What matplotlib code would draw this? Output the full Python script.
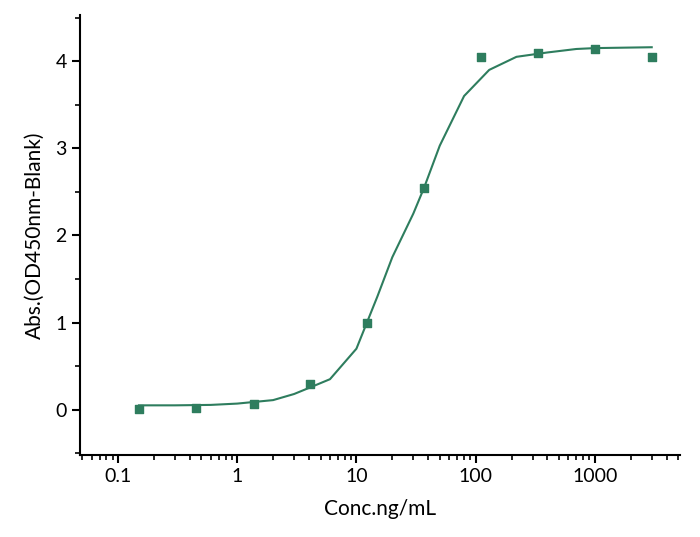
import matplotlib
matplotlib.use('Agg')
import matplotlib.pyplot as plt
from matplotlib.ticker import LogLocator, MultipleLocator, FixedLocator

plt.rcParams['font.family'] = ['Lato', 'DejaVu Sans']

# measured points
conc = [0.15, 0.45, 1.37, 4.1, 12.3, 37, 111, 333, 1000, 3000]
absorb = [0.01, 0.02, 0.07, 0.3, 1.0, 2.55, 4.05, 4.09, 4.14, 4.05]

# fitted curve
curve_x = [0.15, 0.3, 0.6, 1, 2, 3, 4, 6, 10, 15, 20, 30, 37, 50, 80, 130, 220, 400, 700, 1000, 3000]
curve_y = [0.05, 0.05, 0.055, 0.07, 0.11, 0.18, 0.25, 0.35, 0.7, 1.3, 1.75, 2.25, 2.55, 3.03,
           3.6, 3.9, 4.05, 4.1, 4.14, 4.15, 4.16]

color = '#2e7d5e'

fig = plt.figure(figsize=(7.0, 5.37), dpi=100)
ax = fig.add_axes([80/700, 1 - 455/537, 600/700, 440/537])

ax.plot(curve_x, curve_y, color=color, linewidth=1.5)
ax.scatter(conc, absorb, marker='s', s=40, color=color, zorder=3)

ax.set_xscale('log')
ax.set_xlim(0.048, 5180)
ax.set_ylim(-0.52, 4.53)
ax.set_xticks([0.1, 1, 10, 100, 1000])
ax.set_xticklabels(['0.1', '1', '10', '100', '1000'])
ax.xaxis.set_minor_locator(LogLocator(base=10, subs=range(2, 10)))
ax.yaxis.set_major_locator(FixedLocator([0, 1, 2, 3, 4]))
ax.yaxis.set_minor_locator(MultipleLocator(0.5))

for s in ['top', 'right']:
    ax.spines[s].set_visible(False)
for s in ['left', 'bottom']:
    ax.spines[s].set_linewidth(1.5)
ax.tick_params(which='major', direction='out', length=6, width=1.5, labelsize=14)
ax.tick_params(which='minor', direction='out', length=3.5, width=1.2)

ax.set_xlabel('Conc.ng/mL', fontsize=15, labelpad=10)
ax.set_ylabel('Abs.(OD450nm-Blank)', fontsize=15, labelpad=8)

fig.savefig('out.png', dpi=100)
